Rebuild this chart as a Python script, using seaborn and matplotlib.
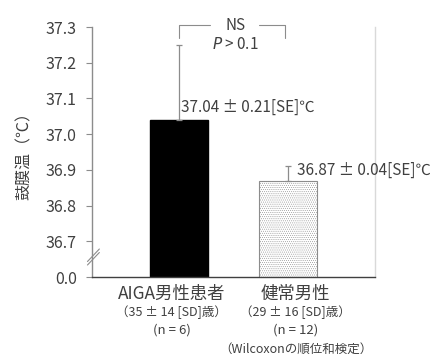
import pandas as pd
import matplotlib
matplotlib.use("Agg")
import matplotlib.pyplot as plt
import seaborn as sns

# Data
groups = ["AIGA男性患者", "健常男性"]
temps = [37.04, 36.87]
se = [0.21, 0.04]
ages = ["（35 ± 14 [SD]歳）", "（29 ± 16 [SD]歳）"]
counts = ["(n = 6)", "(n = 12)"]
yticks = [36.6, 36.7, 36.8, 36.9, 37.0, 37.1, 37.2, 37.3]
ytick_labels = ["0.0", "36.7", "36.8", "36.9", "37.0", "37.1", "37.2", "37.3"]

sns.set_theme(style="white")
plt.rcParams["font.family"] = ["Noto Sans CJK JP", "DejaVu Sans"]
plt.rcParams["hatch.linewidth"] = 0.35
text_col = "#404040"
axis_col = "#8c8c8c"

df = pd.DataFrame({"group": groups, "temp": temps})

fig = plt.figure(figsize=(4.31, 3.54), dpi=100)
ax = fig.add_axes([92 / 431, 1 - 277 / 354, 283 / 431, 250 / 354])

sns.barplot(data=df, x="group", y="temp", hue="group", palette=["black", "white"],
            width=0.53, legend=False, ax=ax, errorbar=None)
bars = ax.patches
bars[0].set_edgecolor("black")
bars[1].set_edgecolor("#8c8c8c")
bars[1].set_hatch("........")
bars[1].set_linewidth(0.8)

ax.errorbar(x=[0, 1], y=temps, yerr=[[0, 0], se], fmt="none", ecolor=axis_col,
            elinewidth=0.9, capsize=2, capthick=0.9, zorder=3)

ax.set_xlim(-0.8, 1.8)
ax.set_ylim(36.6, 37.3)
ax.set_yticks(yticks)
ax.set_yticklabels(ytick_labels, color=text_col, fontsize=11.5)
ax.set_xticks([0, 1])
ax.set_xticklabels(["", ""])
ax.set_xlabel("")
ax.set_ylabel("鼓膜温（℃）", color=text_col, fontsize=11.5, labelpad=9)
ax.tick_params(axis="y", length=4, width=0.8, color=axis_col, direction="out", left=True, pad=7)
ax.tick_params(axis="x", length=0)

ax.spines["left"].set_color(axis_col)
ax.spines["left"].set_linewidth(1.0)
ax.spines["bottom"].set_color("#404040")
ax.spines["bottom"].set_linewidth(1.0)
ax.spines["top"].set_visible(False)
ax.spines["right"].set_color("#d9d9d9")
ax.spines["right"].set_linewidth(1.0)

# axis break marks
for dy in (0.0, 0.014):
    ax.plot([-0.016, 0.026], [0.048 + dy, 0.098 + dy], transform=ax.transAxes,
            color=axis_col, lw=0.8, clip_on=False)

# value labels
ax.text(0.02, temps[0] + 0.01, f"{temps[0]:.2f} ± {se[0]:.2f}[SE]℃", color=text_col,
        fontsize=11, va="bottom", ha="left")
ax.text(1.08, temps[1] + 0.006, f"{temps[1]:.2f} ± {se[1]:.2f}[SE]℃", color=text_col,
        fontsize=11, va="bottom", ha="left")

# significance bracket
by = 37.305
ax.plot([0, 0, 0.28], [37.27, by, by], color=axis_col, lw=0.8, clip_on=False)
ax.plot([0.73, 0.97, 0.97], [by, by, 37.27], color=axis_col, lw=0.8, clip_on=False)
ax.text(0.52, by, "NS", color=text_col, fontsize=11, ha="center", va="center")
ax.text(0.52, 37.25, r"$P$ > 0.1", color=text_col, fontsize=11, ha="center", va="center")

# category labels
tr = ax.get_xaxis_transform()
label_x = [-0.07, 1.07]
for i in range(2):
    ax.text(label_x[i], -0.03, groups[i], transform=tr, color=text_col,
            fontsize=12.5, ha="center", va="top")
    ax.text(label_x[i], -0.115, ages[i], transform=tr, color=text_col,
            fontsize=9, ha="center", va="top")
    ax.text(label_x[i], -0.185, counts[i], transform=tr, color=text_col,
            fontsize=9.5, ha="center", va="top")
ax.text(1.07, -0.262, "（Wilcoxonの順位和検定）", transform=tr,
        color=text_col, fontsize=9, ha="center", va="top")

fig.savefig("out.png", dpi=100)
